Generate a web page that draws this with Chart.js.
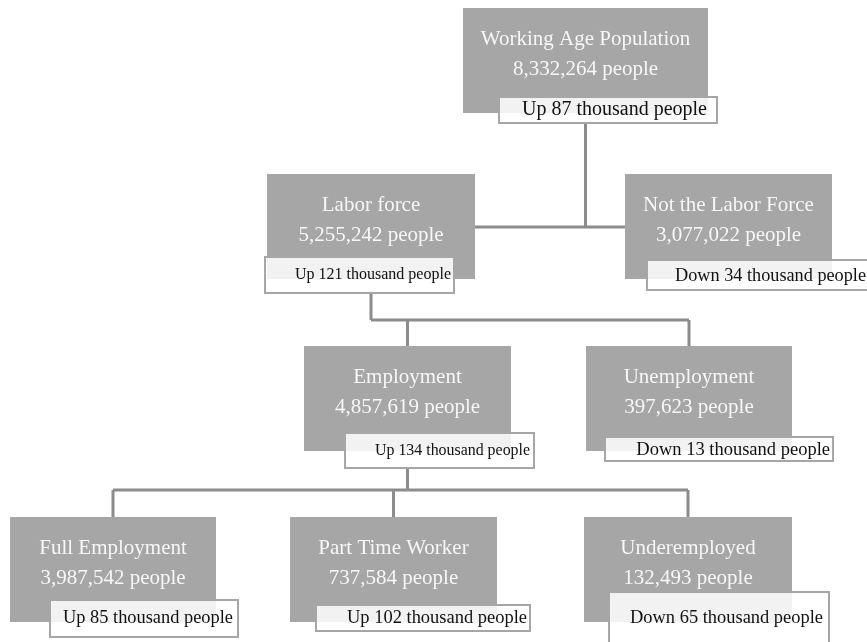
<!DOCTYPE html>
<html>
<head>
<meta charset="utf-8">
<script src="https://cdn.jsdelivr.net/npm/chart.js@4"></script>
<style>
    html, body { margin: 0; padding: 0; background: #fff; }
    #wrap { width: 867px; height: 642px; }
</style>
</head>
<body>
<div id="wrap"><canvas id="tree-chart"></canvas></div>
<script>
// Данные дерева
const nodeNames = ['Working Age Population', 'Labor force', 'Not the Labor Force', 'Employment',
    'Unemployment', 'Full Employment', 'Part Time Worker', 'Underemployed'];
const nodePeople = [8332264, 5255242, 3077022, 4857619, 397623, 3987542, 737584, 132493];
const nodeChange = [87, 121, -34, 134, -13, 85, 102, -65]; // тысяч человек
const nodeParent = [-1, 0, 0, 1, 1, 3, 3, 3];
const nodeLevel = [0, 1, 1, 2, 2, 3, 3, 3];

// Раскладка (в единицах осей)
const nodeX = [585.5, 371, 728.5, 407.5, 689, 113, 393.5, 688];
const boxW = [245, 208, 207, 207, 206, 206, 207, 208];
const boxH = 105;
const levelTop = [8, 174, 346, 517];
const busY = [227, 320, 490];
const tagRect = [[499, 97, 717, 123], [265, 257, 454, 293], [647, 260, 872, 290], [345, 433, 534, 468],
    [605, 437, 833, 461], [50, 600, 238, 637], [316, 605, 530, 631], [609, 592, 829, 652]];
const tagTextRight = [707, 451, 866, 530, 830, 233, 527, 823];
const tagTextY = [110, 275, 276, 451, 450, 618, 618, 618];
const tagTextW = [189, 156, 191, 155, 195, 170, 180, 193];
const tagFont = [20, 16, 18.5, 16, 18.5, 18.5, 18.5, 18.5];

function tagText(i) {
    const v = nodeChange[i];
    return (v >= 0 ? 'Up ' : 'Down ') + Math.abs(v) + ' thousand people';
}

// Плагин, который рисует дерево через шкалы графика
const treePlugin = {
    id: 'tree',
    afterDatasetsDraw(chart) {
        const ctx = chart.ctx;
        const sx = chart.scales.x, sy = chart.scales.y;
        const px = v => sx.getPixelForValue(v);
        const py = v => sy.getPixelForValue(v);
        ctx.save();

        // соединительные линии
        ctx.strokeStyle = '#8c8c8c';
        ctx.lineWidth = 3;
        nodeNames.forEach((_, p) => {
            const kids = [];
            nodeParent.forEach((q, i) => { if (q === p) kids.push(i); });
            if (!kids.length) return;
            const lvl = nodeLevel[p];
            const by = busY[lvl];
            ctx.beginPath();
            ctx.moveTo(px(nodeX[p]), py(tagRect[p][3]));
            ctx.lineTo(px(nodeX[p]), py(by));
            if (lvl === 0) {
                // дети соединены по бокам
                ctx.moveTo(px(nodeX[kids[0]] + boxW[kids[0]] / 2), py(by));
                ctx.lineTo(px(nodeX[kids[1]] - boxW[kids[1]] / 2), py(by));
            } else {
                const xs = kids.map(k => nodeX[k]).concat([nodeX[p]]);
                ctx.moveTo(px(Math.min(...xs)), py(by));
                ctx.lineTo(px(Math.max(...xs)), py(by));
                kids.forEach(k => {
                    ctx.moveTo(px(nodeX[k]), py(by));
                    ctx.lineTo(px(nodeX[k]), py(levelTop[nodeLevel[k]]));
                });
            }
            ctx.stroke();
        });

        // серые блоки
        nodeNames.forEach((name, i) => {
            const top = levelTop[nodeLevel[i]];
            const x0 = px(nodeX[i] - boxW[i] / 2), x1 = px(nodeX[i] + boxW[i] / 2);
            ctx.fillStyle = '#a6a6a6';
            ctx.fillRect(x0, py(top), x1 - x0, py(top + boxH) - py(top));
            ctx.fillStyle = '#f7f7f7';
            ctx.font = '21px "Liberation Serif"';
            ctx.textAlign = 'center';
            ctx.textBaseline = 'middle';
            ctx.fillText(name, px(nodeX[i]), py(top + 31));
            ctx.fillText(nodePeople[i].toLocaleString('en-US') + ' people', px(nodeX[i]), py(top + 61));
        });

        // подписи изменений
        nodeNames.forEach((_, i) => {
            const r = tagRect[i];
            const x0 = px(r[0]), y0 = py(r[1]), x1 = px(r[2]), y1 = py(r[3]);
            ctx.fillStyle = 'rgba(255,255,255,0.86)';
            ctx.fillRect(x0, y0, x1 - x0, y1 - y0);
            ctx.strokeStyle = '#a6a6a6';
            ctx.lineWidth = 2;
            ctx.strokeRect(x0, y0, x1 - x0, y1 - y0);
            ctx.fillStyle = '#111';
            ctx.font = tagFont[i] + 'px "Liberation Serif"';
            ctx.textAlign = 'right';
            ctx.textBaseline = 'middle';
            ctx.fillText(tagText(i), px(tagTextRight[i]), py(tagTextY[i]), tagTextW[i]);
        });

        ctx.restore();
    }
};

const ctx = document.getElementById('tree-chart').getContext('2d');
new Chart(ctx, {
    type: 'scatter',
    data: {
        datasets: [{
            data: nodeX.map((v, i) => ({ x: v, y: levelTop[nodeLevel[i]] + boxH / 2 })),
            pointRadius: 0
        }]
    },
    options: {
        responsive: true,
        maintainAspectRatio: false,
        animation: false,
        layout: { padding: 0 },
        scales: {
            x: { type: 'linear', min: 0, max: 867, display: false },
            y: { type: 'linear', min: 0, max: 642, reverse: true, display: false }
        },
        plugins: { legend: { display: false }, tooltip: { enabled: false } }
    },
    plugins: [treePlugin]
});
</script>
</body>
</html>
